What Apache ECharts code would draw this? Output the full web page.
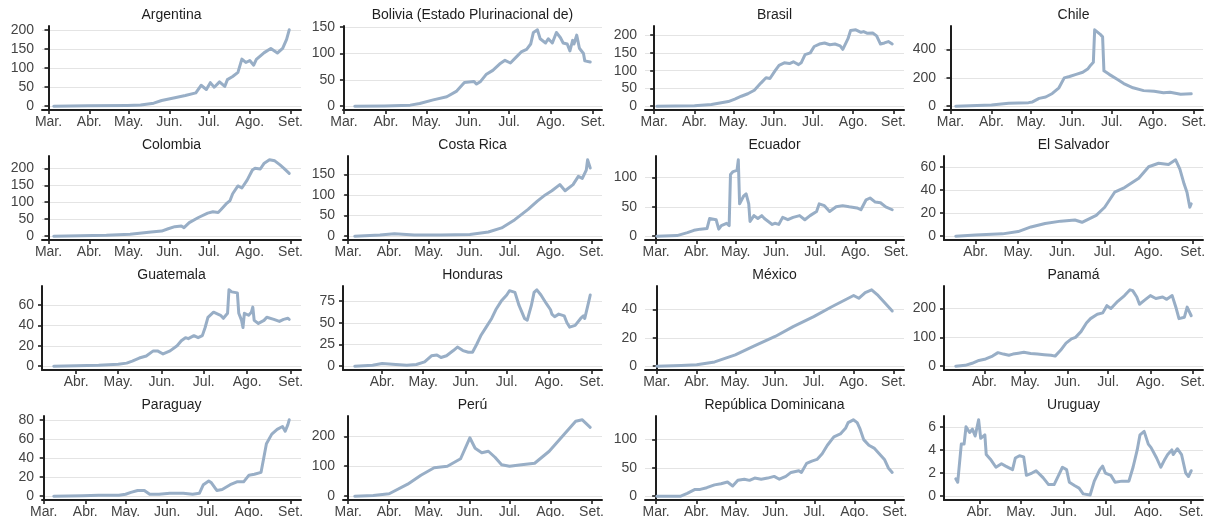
<!DOCTYPE html>
<html>
<head>
<meta charset="utf-8">
<script src="https://cdn.jsdelivr.net/npm/echarts@6/dist/echarts.min.js"></script>
<style>
  html, body { margin: 0; padding: 0; background: #ffffff; }
  #chart { width: 1209px; height: 517px; }
</style>
</head>
<body>
<div id="chart"></div>
<script>
// Daily series, x = days elapsed since 1 March (0 = 1 Mar, 31 = 1 Abr, ... 184 = 1 Set).
const countries = [
  'Argentina', 'Bolivia (Estado Plurinacional de)', 'Brasil', 'Chile',
  'Colombia', 'Costa Rica', 'Ecuador', 'El Salvador',
  'Guatemala', 'Honduras', 'México', 'Panamá',
  'Paraguay', 'Perú', 'República Dominicana', 'Uruguay'
];

const monthLabels = ['Mar.', 'Abr.', 'May.', 'Jun.', 'Jul.', 'Ago.', 'Set.'];
const monthStarts = [0, 31, 61, 92, 122, 153, 184];

// spacing of the y-axis breaks for each country
const yStep = [50, 50, 50, 200, 50, 50, 50, 20, 20, 25, 20, 100, 20, 100, 50, 2];

const argentina = [[4,0],[30,1],[60,2],[70,3],[80,8],[86,15],[96,22],[104,28],[112,35],[116,55],[120,44],[123,62],[126,50],[130,64],[134,52],[136,70],[140,78],[144,89],[147,124],[150,115],[153,120],[156,108],[158,123],[164,141],[169,152],[174,140],[178,152],[181,176],[183,201]];
const bolivia = [[8,0],[30,0.5],[49,2],[56,5],[66,12],[76,18],[83,28],[89,45],[96,47],[98,42],[101,47],[105,60],[110,68],[115,80],[119,87],[123,82],[128,95],[131,103],[135,108],[138,118],[140,140],[143,145],[145,128],[149,120],[151,128],[154,120],[157,140],[160,130],[162,120],[165,118],[167,105],[169,125],[170,118],[172,135],[174,110],[177,100],[178,86],[182,84]];
const brasil = [[2,0],[31,1],[44,5],[57,13],[62,20],[67,28],[72,35],[77,45],[82,65],[86,80],[89,78],[93,100],[96,115],[100,122],[104,120],[107,125],[111,117],[113,122],[114,118],[116,145],[120,150],[123,168],[127,175],[131,178],[135,173],[139,175],[143,170],[145,160],[146,158],[149,190],[151,213],[155,215],[159,208],[161,210],[164,205],[168,206],[171,198],[174,175],[177,178],[180,182],[183,175]];
const chile = [[4,0],[31,8],[44,20],[59,25],[62,30],[67,55],[72,65],[77,90],[82,130],[86,200],[90,210],[95,225],[100,240],[104,265],[106,290],[108,310],[109,540],[113,510],[115,490],[116,250],[120,225],[126,190],[131,160],[138,130],[146,110],[154,105],[161,95],[166,98],[174,85],[182,88]];
const colombia = [[4,0],[44,3],[62,6],[78,12],[86,15],[91,22],[96,28],[101,30],[103,25],[107,40],[114,55],[121,68],[125,72],[129,70],[131,78],[135,95],[138,105],[140,125],[144,148],[147,142],[151,165],[155,195],[157,200],[161,198],[164,215],[168,225],[172,222],[176,210],[179,200],[183,185]];
const costaRica = [[5,0],[24,3],[35,6],[50,3],[70,3],[92,4],[106,10],[116,20],[126,40],[136,65],[143,85],[149,100],[154,110],[160,125],[164,110],[170,125],[174,145],[177,140],[180,160],[181,185],[183,165]];
const ecuador = [[0.5,0],[16,1],[24,6],[29,10],[34,12],[39,13],[41,30],[46,28],[48,12],[50,18],[54,22],[56,18],[57,105],[59,110],[62,112],[63,130],[64,55],[67,68],[69,72],[71,55],[72,25],[73,22],[75,35],[78,30],[81,35],[83,30],[89,20],[91,22],[94,20],[97,32],[101,28],[105,32],[110,35],[114,28],[118,35],[123,42],[125,55],[129,52],[133,42],[138,50],[143,52],[148,50],[154,48],[157,45],[161,62],[164,65],[168,58],[172,57],[176,50],[181,45]];
const elSalvador = [[17,0],[31,1],[50,2],[61,4],[70,8],[80,11],[91,13],[101,14],[106,12],[116,18],[122,25],[129,38],[136,42],[146,50],[153,60],[160,63],[167,62],[172,66],[175,58],[178,45],[180,38],[182,25],[183,28]];
const guatemala = [[15,0],[47,1],[61,2],[67,3],[71,5],[76,8],[81,10],[86,15],[89,15],[93,12],[98,15],[103,20],[106,25],[109,28],[111,27],[115,30],[118,28],[121,30],[123,38],[125,48],[129,53],[134,50],[136,47],[139,52],[140,75],[142,73],[146,72],[147,52],[149,45],[150,38],[151,52],[154,50],[156,53],[157,58],[158,45],[161,42],[165,45],[167,48],[172,46],[176,44],[179,46],[182,47],[183,46]];
const honduras = [[11,0],[24,1],[31,3],[41,2],[49,1],[56,2],[62,5],[67,12],[71,13],[74,10],[78,12],[83,18],[86,22],[90,18],[94,16],[97,16],[100,25],[103,35],[107,45],[111,55],[114,65],[118,75],[122,82],[124,87],[128,85],[131,70],[135,55],[137,53],[140,70],[142,85],[144,88],[147,82],[151,72],[154,65],[155,60],[157,57],[160,60],[164,58],[166,50],[168,45],[172,47],[176,55],[178,58],[179,55],[182,75],[183,82]];
const mexico = [[0,0],[19,0.5],[31,1],[45,3],[61,8],[75,14],[92,21],[106,28],[122,35],[136,42],[153,50],[157,48],[162,52],[167,54],[172,50],[177,45],[183,39]];
const panama = [[10,0],[17,3],[22,10],[27,20],[32,25],[37,35],[41,47],[45,42],[49,38],[52,42],[56,45],[60,48],[65,44],[70,42],[75,40],[80,38],[83,35],[87,55],[91,80],[95,95],[98,100],[102,120],[106,150],[109,165],[114,180],[118,185],[121,210],[124,200],[129,225],[134,245],[138,265],[140,262],[143,240],[145,215],[149,230],[153,245],[157,235],[162,240],[165,232],[169,245],[172,200],[174,165],[178,170],[180,205],[183,175]];
const paraguay = [[7.5,0],[29,0.5],[41,1],[56,1],[61,2],[65,4],[70,6],[75,6],[79,2],[86,2],[94,3],[104,3],[111,2],[116,3],[119,12],[123,16],[125,14],[129,6],[133,7],[139,12],[144,15],[149,15],[153,22],[157,23],[162,25],[164,40],[166,55],[170,65],[174,70],[178,73],[180,68],[182,75],[183,80]];
const peru = [[5,0],[19,2],[31,8],[45,40],[55,70],[65,95],[75,100],[85,125],[92,195],[96,160],[101,145],[106,150],[111,130],[116,105],[122,100],[131,105],[141,110],[152,150],[162,200],[172,250],[177,255],[183,230]];
const repDominicana = [[0.5,0],[19,0],[24,5],[30,12],[34,12],[39,15],[45,20],[50,22],[55,25],[59,18],[63,28],[68,30],[72,28],[76,32],[81,30],[86,32],[91,35],[95,30],[100,35],[104,42],[110,45],[112,42],[116,58],[120,62],[124,65],[128,75],[132,90],[137,105],[142,110],[146,120],[148,130],[152,135],[155,130],[157,120],[160,100],[164,90],[168,85],[172,75],[176,65],[179,50],[182,42]];
const uruguay = [[14,1.5],[15.4,1.2],[18,4.5],[20,4.5],[21.4,6.0],[24,5.5],[26,5.8],[28,5.2],[30.5,6.6],[32,5.0],[35,5.3],[36,3.6],[39,3.2],[43,2.5],[47,2.8],[50,2.6],[55,2.3],[57,3.3],[60,3.5],[63,3.4],[65,1.8],[69,2.0],[72,2.2],[77,1.6],[81,1.0],[85,1.0],[89,2.0],[91,2.5],[94,2.3],[96,1.2],[100,0.9],[103,0.7],[106,0.2],[111,0.1],[114,1.3],[118,2.3],[120,2.6],[122,2.0],[126,1.8],[129,1.2],[134,1.3],[139,1.3],[142,2.5],[145,4.0],[147,5.3],[150,5.6],[153,4.5],[155,4.2],[159,3.3],[162,2.5],[165,3.2],[167,3.6],[170,4.0],[171,3.6],[174,4.1],[177,3.6],[180,2.0],[182,1.7],[184,2.2]];

const seriesData = [
  argentina, bolivia, brasil, chile,
  colombia, costaRica, ecuador, elSalvador,
  guatemala, honduras, mexico, panama,
  paraguay, peru, repDominicana, uruguay
];

// panel geometry
const colLeft = [42, 343, 645, 944];
const panelWidth = 259;
const rowTop = [26, 156, 286, 416];
const panelHeight = 84;

const lineColor = '#98aec6';
const inkColor = '#1e1e1e';
const labelColor = '#444444';
const gridColor = '#e4e4e4';
const fontFamily = '"Liberation Sans", Arial, Helvetica, sans-serif';

const grids = [], xAxes = [], yAxes = [], series = [], titles = [];

seriesData.forEach((data, i) => {
  const col = i % 4, row = Math.floor(i / 4);
  const xs = data.map(p => p[0]);
  const ys = data.map(p => p[1]);
  const xMin = Math.min(...xs), xMax = Math.max(...xs);
  const yMin = Math.min(0, Math.min(...ys)), yMax = Math.max(...ys);
  const xPad = (xMax - xMin) * 0.05, yPad = (yMax - yMin) * 0.05;
  const lo = xMin - xPad, hi = xMax + xPad;
  const yLo = yMin - yPad, yHi = yMax + yPad;

  const xTicks = monthStarts.filter(v => v >= lo && v <= hi);
  const yTicks = [];
  for (let v = 0; v <= yHi + 1e-9; v += yStep[i]) yTicks.push(v);

  grids.push({
    left: colLeft[col], top: rowTop[row], width: panelWidth, height: panelHeight,
    containLabel: false, outerBoundsMode: 'none'
  });

  titles.push({
    text: countries[i],
    left: colLeft[col] + panelWidth / 2,
    top: rowTop[row] - 18,
    textAlign: 'center',
    padding: 0,
    textStyle: { fontSize: 14, fontWeight: 'normal', color: inkColor, fontFamily }
  });

  xAxes.push({
    type: 'value', gridIndex: i, min: lo, max: hi,
    axisLine: { onZero: false, lineStyle: { color: inkColor, width: 2 } },
    axisTick: { show: true, length: 4, customValues: xTicks, lineStyle: { color: inkColor, width: 1.6 } },
    axisLabel: {
      customValues: xTicks, margin: 5,
      color: labelColor, fontSize: 14, fontFamily,
      formatter: v => monthLabels[monthStarts.indexOf(v)] || ''
    },
    splitLine: { show: false }
  });

  yAxes.push({
    type: 'value', gridIndex: i, min: yLo, max: yHi,
    axisLine: { show: true, lineStyle: { color: inkColor, width: 2 } },
    axisTick: { show: true, length: 4, customValues: yTicks, lineStyle: { color: inkColor, width: 1.6 } },
    axisLabel: {
      customValues: yTicks, margin: 8,
      color: labelColor, fontSize: 14, fontFamily,
      formatter: v => String(Math.round(v))
    },
    splitLine: { show: true, lineStyle: { color: gridColor, width: 1 } }
  });

  series.push({
    type: 'line', xAxisIndex: i, yAxisIndex: i,
    data: data, showSymbol: false, symbol: 'none',
    lineStyle: { color: lineColor, width: 3, join: 'round', cap: 'round' },
    silent: true, animation: false
  });
});

const chart = echarts.init(document.getElementById('chart'), null, { renderer: 'canvas' });
chart.setOption({
  backgroundColor: '#ffffff',
  animation: false,
  title: titles,
  grid: grids,
  xAxis: xAxes,
  yAxis: yAxes,
  series: series
});
</script>
</body>
</html>
